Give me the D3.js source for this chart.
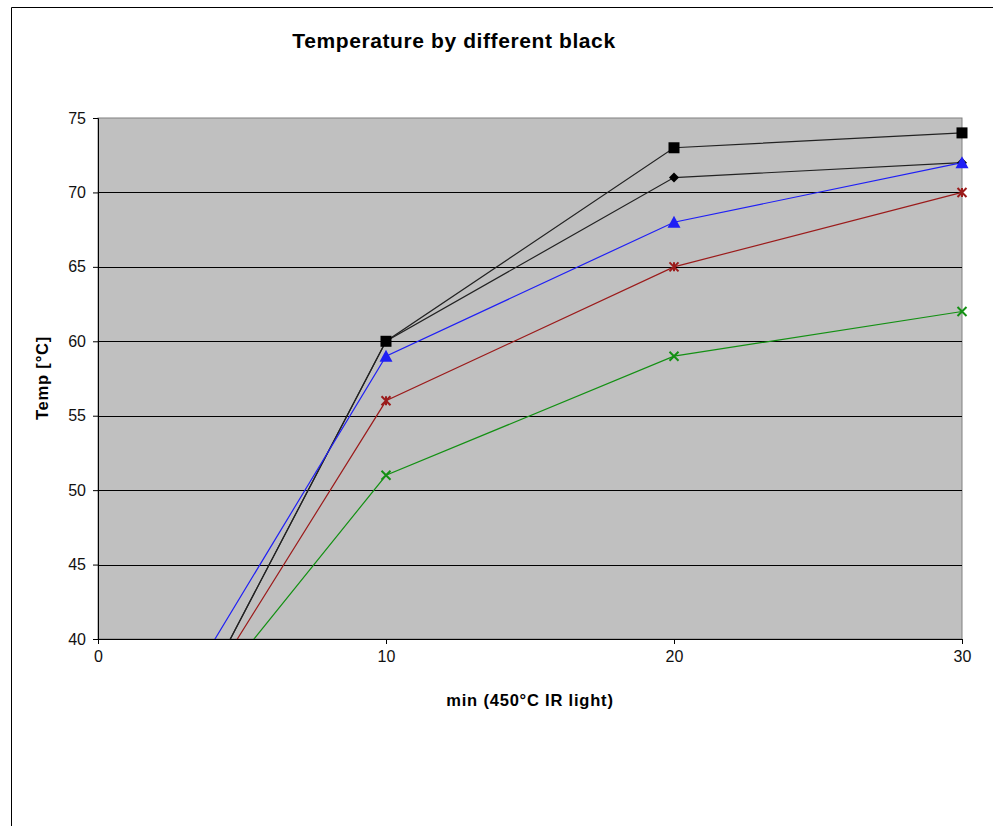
<!DOCTYPE html>
<html>
<head>
<meta charset="utf-8">
<script src="https://cdn.jsdelivr.net/npm/d3@7"></script>
<style>
  body { margin: 0; background: #fff; }
  text { font-family: Arial, "Liberation Sans", sans-serif; }
</style>
</head>
<body>
<svg id="chart" width="993" height="826"></svg>
<script>
// minutes under the lamp
var minutes = [0, 10, 20, 30];
var xTicks = [0, 10, 20, 30];
var yTicks = [40, 45, 50, 55, 60, 65, 70, 75];

var blackSquare = [23, 60, 73, 74];
var blackDiamond = [23, 60, 71, 72];
var blueTriangle = [27, 59, 68, 72];
var redStar = [25, 56, 65, 70];
var greenCross = [27, 51, 59, 62];

var series = [
    { values: blackDiamond, color: "#222", marker: "diamond" },
    { values: blackSquare, color: "#222", marker: "square" },
    { values: greenCross, color: "#139013", marker: "cross" },
    { values: redStar, color: "#9b1b1b", marker: "star" },
    { values: blueTriangle, color: "#1f1ff5", marker: "triangle" }
];

var svg = d3.select("#chart"),
    plotLeft = 98,
    plotTop = 118,
    plotRight = 962,
    plotBottom = 639;

// outer chart frame
svg.append("path")
    .attr("d", "M11.5,826 V7.5 H993")
    .style("fill", "none")
    .style("stroke", "#000")
    .style("stroke-width", 1);

var x = d3.scaleLinear().domain([0, 30]).range([plotLeft, plotRight]);
var y = d3.scaleLinear().domain([40, 75]).range([plotBottom, plotTop]);

svg.append("rect")
    .attr("x", plotLeft)
    .attr("y", plotTop)
    .attr("width", plotRight - plotLeft)
    .attr("height", plotBottom - plotTop)
    .style("fill", "#c0c0c0")
    .style("stroke", "#808080")
    .style("stroke-width", 1);

// horizontal gridlines
svg.append("g")
    .selectAll("line")
    .data(yTicks.filter(function(d) { return d > 40 && d < 75; }))
    .enter()
    .append("line")
    .attr("x1", plotLeft)
    .attr("x2", plotRight)
    .attr("y1", function(d) { return Math.round(y(d)) + 0.5; })
    .attr("y2", function(d) { return Math.round(y(d)) + 0.5; })
    .style("stroke", "#000")
    .style("stroke-width", 1);

var yAxis = svg.append("g")
    .attr("transform", "translate(" + plotLeft + ",0)")
    .call(d3.axisLeft(y).tickValues(yTicks).tickSize(5).tickPadding(7));

var xAxis = svg.append("g")
    .attr("transform", "translate(0," + plotBottom + ")")
    .call(d3.axisBottom(x).tickValues(xTicks).tickSize(5).tickPadding(7));

[yAxis, xAxis].forEach(function(ax) {
    ax.select(".domain").style("stroke", "#000");
    ax.selectAll(".tick line").style("stroke", "#000");
    ax.selectAll("text")
        .style("font-size", "16px")
        .style("fill", "#111")
        .style("font-family", "Arial, 'Liberation Sans', sans-serif");
});

// clip the lines to the plot area, markers stay on top
svg.append("clipPath")
    .attr("id", "plotClip")
    .append("rect")
    .attr("x", plotLeft)
    .attr("y", plotTop - 10)
    .attr("width", plotRight - plotLeft + 10)
    .attr("height", plotBottom - plotTop + 10);

var line = d3.line()
    .x(function(d, i) { return x(minutes[i]); })
    .y(function(d) { return y(d); });

var lineGroup = svg.append("g").attr("clip-path", "url(#plotClip)");

series.forEach(function(s) {
    lineGroup.append("path")
        .datum(s.values)
        .attr("d", line)
        .style("fill", "none")
        .style("stroke", s.color)
        .style("stroke-width", 1.2);
});

function drawMarker(g, type, cx, cy, color) {
    if (type == "square") {
        g.append("rect")
            .attr("x", cx - 5.5).attr("y", cy - 5.5)
            .attr("width", 11).attr("height", 11)
            .style("fill", "#000");
    } else if (type == "diamond") {
        g.append("path")
            .attr("d", "M" + cx + "," + (cy - 5) + " L" + (cx + 5) + "," + cy +
                " L" + cx + "," + (cy + 5) + " L" + (cx - 5) + "," + cy + "Z")
            .style("fill", "#000");
    } else if (type == "triangle") {
        g.append("path")
            .attr("d", "M" + cx + "," + (cy - 6.5) + " L" + (cx + 6.5) + "," + (cy + 5.5) +
                " L" + (cx - 6.5) + "," + (cy + 5.5) + "Z")
            .style("fill", color);
    } else if (type == "cross" || type == "star") {
        g.append("path")
            .attr("d", "M" + (cx - 4.5) + "," + (cy - 4.5) + " L" + (cx + 4.5) + "," + (cy + 4.5) +
                " M" + (cx + 4.5) + "," + (cy - 4.5) + " L" + (cx - 4.5) + "," + (cy + 4.5) +
                (type == "star" ? " M" + cx + "," + (cy - 4.5) + " L" + cx + "," + (cy + 4.5) : ""))
            .style("stroke", color)
            .style("stroke-width", 2)
            .style("fill", "none");
    }
}

var markerGroup = svg.append("g");
series.forEach(function(s) {
    s.values.forEach(function(v, i) {
        if (v < 40) return;
        drawMarker(markerGroup, s.marker, x(minutes[i]), y(v), s.color);
    });
});

svg.append("text")
    .attr("x", 454)
    .attr("y", 48)
    .attr("text-anchor", "middle")
    .style("font-size", "21px")
    .style("font-weight", "bold")
    .style("letter-spacing", "0.6px")
    .text("Temperature by different black");

svg.append("text")
    .attr("x", 530)
    .attr("y", 706)
    .attr("text-anchor", "middle")
    .style("font-size", "16.5px")
    .style("font-weight", "bold")
    .style("letter-spacing", "0.8px")
    .text("min (450°C  IR light)");

svg.append("text")
    .attr("transform", "translate(48,378) rotate(-90)")
    .attr("text-anchor", "middle")
    .style("font-size", "16.5px")
    .style("font-weight", "bold")
    .style("letter-spacing", "0.8px")
    .text("Temp [°C]");
</script>
</body>
</html>
